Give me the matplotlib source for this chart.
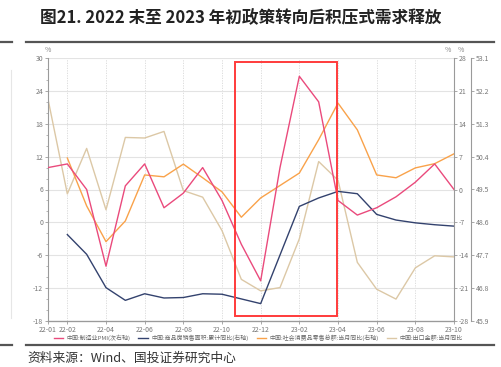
import numpy as np
import pandas as pd
import matplotlib.pyplot as plt
from matplotlib.patches import Rectangle
from matplotlib.lines import Line2D

plt.rcParams['font.family'] = ['Noto Sans CJK SC', 'DejaVu Sans']
plt.rcParams['axes.unicode_minus'] = False

# --- data ---
months = ['22-01', '22-02', '22-03', '22-04', '22-05', '22-06', '22-07', '22-08',
          '22-09', '22-10', '22-11', '22-12', '23-01', '23-02', '23-03', '23-04',
          '23-05', '23-06', '23-07', '23-08', '23-09', '23-10']
tick_labels = ['22-01', '22-02', '22-04', '22-06', '22-08', '22-10', '22-12',
               '23-02', '23-04', '23-06', '23-08', '23-10']

pmi = [50.1, 50.2, 49.5, 47.4, 49.6, 50.2, 49.0, 49.4, 50.1, 49.2, 48.0, 47.0,
       50.1, 52.6, 51.9, 49.2, 48.8, 49.0, 49.3, 49.7, 50.2, 49.5]
house_sales = [np.nan, -9.6, -13.8, -20.9, -23.6, -22.2, -23.1, -23.0, -22.2, -22.3,
               -23.3, -24.3, np.nan, -3.6, -1.8, -0.4, -0.9, -5.3, -6.5, -7.1, -7.5, -7.8]
retail = [np.nan, 6.7, -3.5, -11.1, -6.7, 3.1, 2.7, 5.4, 2.5, -0.5, -5.9, -1.8,
          np.nan, 3.5, 10.6, 18.4, 12.7, 3.1, 2.5, 4.6, 5.5, 7.6]
exports = [22.5, 5.2, 13.5, 2.3, 15.5, 15.4, 16.6, 5.8, 4.6, -1.5, -10.4, -12.5,
           -11.9, -3.0, 11.1, 7.7, -7.3, -12.2, -14.0, -8.3, -6.1, -6.3]

labels = ['中国:制造业PMI(次右轴)', '中国:商品房销售面积:累计同比(右轴)',
          '中国:社会消费品零售总额:当月同比(右轴)', '中国:出口金额:当月同比']
colors = ['#ea4a7c', '#33426e', '#f9a24a', '#dcc8a6']

x = np.arange(len(months))
grey = '#9a9a9a'
tick_fs = 5

fig = plt.figure(figsize=(5.01, 3.67), dpi=100)
ax = fig.add_axes([48 / 501, 1 - 321 / 367, (454 - 48) / 501, (321 - 58) / 367])
ax2 = ax.twinx()
ax3 = ax.twinx()
ax3.spines['right'].set_position(('outward', 12))

# left axis: exports
ax.set_ylim(-18, 30)
ax.set_yticks(np.arange(-18, 31, 6))
ax.set_yticks(np.arange(-18, 31, 2), minor=True)
ax.set_xlim(0, 21)
ax.set_xticks([months.index(m) for m in tick_labels])
ax.set_xticklabels(tick_labels)
ax.grid(axis='y', color='#e3e3e3', lw=0.8)
ax.grid(axis='x', color='#d8d8d8', lw=0.6, ls=(0, (1.5, 1.5)))
ax.set_axisbelow(True)

# right axis: housing + retail
ax2.set_ylim(-28, 28)
ax2.set_yticks(np.arange(-28, 29, 7))
# secondary right axis: PMI
ax3.set_ylim(45.9, 53.1)
pmi_ticks = [45.9, 46.8, 47.7, 48.6, 49.5, 50.4, 51.3, 52.2, 53.1]
ax3.set_yticks(pmi_ticks)
ax3.set_yticklabels([f'{t:.1f}' for t in pmi_ticks])

for a in (ax, ax2, ax3):
    a.spines['top'].set_visible(False)
    for s in a.spines.values():
        s.set_color(grey)
        s.set_linewidth(0.8)
    a.tick_params(colors=grey, labelcolor='#777777', labelsize=tick_fs,
                  length=2.5, width=0.6, pad=1)
    a.tick_params(which='minor', colors=grey, length=1.5, width=0.5)
ax.spines['right'].set_visible(False)
ax2.spines['left'].set_visible(False)
ax3.spines['left'].set_visible(False)

ex = pd.Series(exports, index=x)
hs = pd.Series(house_sales, index=x).dropna()
rt = pd.Series(retail, index=x).dropna()
pm = pd.Series(pmi, index=x)

l4, = ax.plot(ex.index, ex.values, color=colors[3], lw=1.0)
l2, = ax2.plot(hs.index, hs.values, color=colors[1], lw=1.0)
l3, = ax2.plot(rt.index, rt.values, color=colors[2], lw=1.0)
l1, = ax3.plot(pm.index, pm.values, color=colors[0], lw=1.0)

# highlight box
ax3.add_patch(Rectangle((9.65, 46.05), 14.95 - 9.65, 53.0 - 46.05,
                        fill=False, edgecolor='#ff3b3b', lw=1.4, zorder=5))

ax.text(0, 1.022, '%', transform=ax.transAxes, fontsize=tick_fs, color='#888888', ha='center')
ax.text(0.985, 1.022, '%', transform=ax.transAxes, fontsize=tick_fs, color='#888888', ha='center')
ax.text(1.017, 1.022, '%', transform=ax.transAxes, fontsize=tick_fs, color='#888888', ha='center')

fig.legend([l1, l2, l3, l4], labels, loc='center', bbox_to_anchor=(0.515, 1 - 338 / 367),
           ncol=4, fontsize=4.3, frameon=False, handlelength=1.6, handletextpad=0.5,
           columnspacing=1.4, labelcolor='#666666', borderpad=0.1)

# title, rules and source
fig.text(40 / 501, 1 - 18 / 367, '图21. 2022 末至 2023 年初政策转向后积压式需求释放',
         fontsize=12, fontweight='bold', color='#222222', va='center')
for yy in (42, 345):
    fig.add_artist(Line2D([0, 12 / 501], [1 - yy / 367] * 2, color='#555555', lw=1.6))
    fig.add_artist(Line2D([26 / 501, 494 / 501], [1 - yy / 367] * 2, color='#555555', lw=1.6))
fig.add_artist(Line2D([11 / 501] * 2, [1 - 70 / 367, 1 - 318 / 367], color='#e6e6e6', lw=0.8))
fig.text(27 / 501, 1 - 358 / 367, '资料来源：Wind、国投证券研究中心', fontsize=9.2,
         style='italic', color='#333333', va='center')

fig.savefig('out.png', dpi=100)
